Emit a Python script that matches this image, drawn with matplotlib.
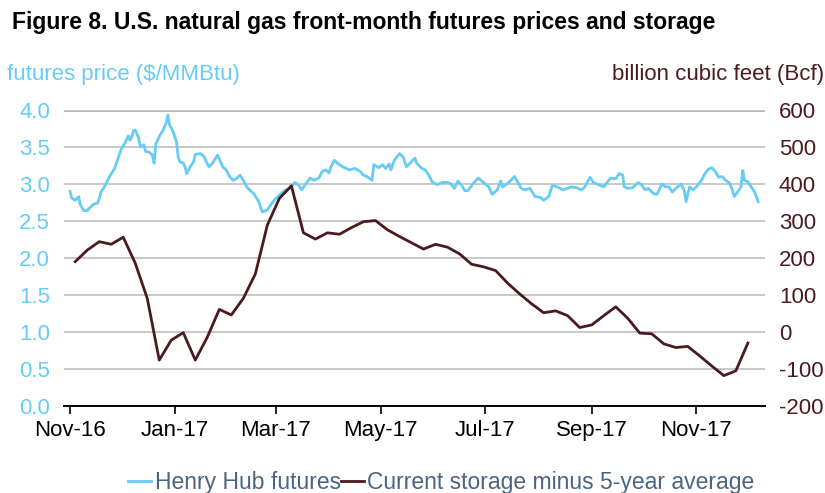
import matplotlib
matplotlib.use("Agg")
import matplotlib.pyplot as plt
import matplotlib.dates as mdates
import pandas as pd

plt.rcParams['font.family'] = ['Liberation Sans', 'DejaVu Sans']
plt.rcParams['axes.unicode_minus'] = False

# Henry Hub front-month futures, $/MMBtu
price_day = [0, 1, 3, 5, 6, 8, 10, 12, 14, 16, 17, 18, 20, 23, 26, 29, 30, 32, 34, 35,
             36, 37, 38, 40, 41, 43, 44, 46, 48, 49, 50, 52, 54, 56, 57, 58, 60, 62, 63, 64,
             66, 67, 68, 70, 72, 73, 76, 78, 79, 81, 83, 86, 89, 91, 93, 95, 97, 99, 101, 103,
             105, 107, 110, 112, 115, 117, 119, 122, 125, 128, 131, 133, 135, 137, 140, 142, 145, 147, 149, 151,
             152, 154, 156, 159, 163, 166, 169, 171, 173, 176, 177, 180, 182, 184, 186, 187, 189, 192, 194, 196,
             198, 201, 202, 205, 207, 209, 211, 214, 217, 220, 222, 224, 226, 228, 230, 232, 235, 238, 241, 244,
             246, 248, 249, 251, 252, 254, 257, 259, 261, 263, 265, 268, 271, 274, 276, 279, 281, 284, 287, 290,
             292, 295, 298, 300, 303, 305, 308, 311, 313, 315, 318, 320, 322, 323, 325, 328, 331, 333, 335, 337,
             340, 342, 345, 347, 349, 351, 353, 356, 358, 359, 361, 363, 365, 368, 370, 372, 374, 376, 378, 380,
             382, 384, 386, 387, 389, 391, 392, 393, 395, 397, 399, 401]
price = [2.90, 2.81, 2.78, 2.83, 2.72, 2.64, 2.64, 2.69, 2.73, 2.74, 2.80, 2.89, 2.96, 3.10, 3.21, 3.41, 3.48, 3.55, 3.65, 3.59,
         3.64, 3.72, 3.73, 3.62, 3.50, 3.53, 3.44, 3.43, 3.39, 3.28, 3.54, 3.64, 3.72, 3.82, 3.93, 3.80, 3.71, 3.57, 3.37, 3.30,
         3.28, 3.23, 3.14, 3.23, 3.30, 3.40, 3.41, 3.37, 3.32, 3.23, 3.28, 3.39, 3.23, 3.19, 3.10, 3.05, 3.07, 3.12, 3.05, 2.96,
         2.91, 2.87, 2.76, 2.62, 2.65, 2.72, 2.78, 2.85, 2.91, 2.94, 3.02, 2.99, 2.92, 2.99, 3.08, 3.05, 3.08, 3.17, 3.19, 3.15,
         3.23, 3.32, 3.28, 3.23, 3.19, 3.21, 3.17, 3.12, 3.10, 3.05, 3.26, 3.22, 3.26, 3.21, 3.27, 3.19, 3.32, 3.41, 3.37, 3.23,
         3.28, 3.35, 3.28, 3.21, 3.19, 3.12, 3.03, 2.99, 3.02, 3.02, 3.00, 2.94, 3.04, 2.99, 2.91, 2.91, 3.01, 3.08, 3.02, 2.96,
         2.86, 2.90, 2.92, 3.04, 2.96, 2.99, 3.05, 3.10, 3.02, 2.94, 2.92, 2.94, 2.83, 2.82, 2.78, 2.83, 2.98, 2.96, 2.92, 2.94,
         2.96, 2.95, 2.92, 2.96, 3.09, 3.02, 2.99, 2.96, 3.02, 3.08, 3.07, 3.14, 3.12, 2.96, 2.94, 2.95, 3.02, 2.99, 2.92, 2.94,
         2.87, 2.86, 3.00, 2.96, 2.96, 2.89, 2.94, 3.00, 2.91, 2.76, 2.96, 2.92, 2.96, 3.05, 3.14, 3.20, 3.22, 3.17, 3.09, 3.10,
         3.05, 3.02, 2.92, 2.83, 2.89, 2.96, 3.18, 3.05, 3.03, 2.96, 2.89, 2.76]

# weekly storage minus 5-year average, Bcf
storage_start = '2016-11-04'
storage = [190, 221, 244, 237, 256, 186, 91, -76, -22, -2, -76, -14, 61, 46, 91, 157, 289, 361, 395, 268,
           251, 268, 264, 282, 298, 301, 276, 258, 241, 224, 237, 229, 211, 183, 176, 166, 132, 103, 76, 52,
           57, 44, 12, 19, 44, 68, 37, -3, -5, -32, -42, -39, -65, -92, -118, -105, -30]

left_ticks = [0.0, 0.5, 1.0, 1.5, 2.0, 2.5, 3.0, 3.5, 4.0]
right_ticks = [-200, -100, 0, 100, 200, 300, 400, 500, 600]
x_ticks = ['2016-11-01', '2017-01-01', '2017-03-01', '2017-05-01', '2017-07-01', '2017-09-01', '2017-11-01']

blue = '#66CCF5'
brown = '#4B1A1F'

start = pd.Timestamp('2016-11-01')
price_dates = start + pd.to_timedelta(price_day, unit='D')
storage_dates = pd.date_range(storage_start, periods=len(storage), freq='7D')

fig = plt.figure(figsize=(8.25, 4.93), dpi=100)
ax = fig.add_axes([0.0776, 0.1765, 0.8497, 0.6005])
ax2 = ax.twinx()

ax.set_ylim(0, 4)
ax2.set_ylim(-200, 600)
ax.set_yticks(left_ticks)
ax.set_yticklabels(['%.1f' % t for t in left_ticks])
ax2.set_yticks(right_ticks)
ax.yaxis.grid(True, color='#C8C8C8', linewidth=1.4)
ax.set_axisbelow(True)

l1, = ax.plot(price_dates, price, color=blue, linewidth=2, label='Henry Hub futures')
l2, = ax2.plot(storage_dates, storage, color=brown, linewidth=2, label='Current storage minus 5-year average')

ax.set_xlim(start - pd.Timedelta(days=3.5), start + pd.Timedelta(days=405))
ax.set_xticks(pd.to_datetime(x_ticks))
ax.xaxis.set_major_formatter(mdates.DateFormatter('%b-%y'))

for a in (ax, ax2):
    for s in ('top', 'left', 'right', 'bottom'):
        a.spines[s].set_visible(False)
ax.spines['bottom'].set_visible(True)
ax.spines['bottom'].set_linewidth(1.4)
ax.spines['bottom'].set_color('black')

ax.tick_params(axis='x', direction='out', length=6, width=1.2, labelsize=16, pad=4, colors='black')
ax.tick_params(axis='y', length=0, labelsize=16, pad=10, labelcolor=blue)
ax2.tick_params(axis='y', length=0, labelsize=16, pad=10, labelcolor=brown)
ax.axhline(4.0, color='#B0B0B0', linewidth=2, zorder=0)

fig.text(0.015, 0.955, 'Figure 8. U.S. natural gas front-month futures prices and storage',
         fontsize=16.5, fontweight='bold', ha='left', va='center')
fig.text(0.009, 0.848, 'futures price ($/MMBtu)', color=blue, fontsize=16, ha='left', va='center')
fig.text(0.999, 0.848, 'billion cubic feet (Bcf)', color=brown, fontsize=16, ha='right', va='center')

leg = fig.legend(handles=[l1, l2], loc='center', bbox_to_anchor=(0.535, 0.022), ncol=2, frameon=False,
                 fontsize=16.5, handlelength=1.0, handletextpad=0.15, columnspacing=0.0, borderpad=0)
for t in leg.get_texts():
    t.set_color('#4A6483')

fig.savefig('out.png', dpi=100)
